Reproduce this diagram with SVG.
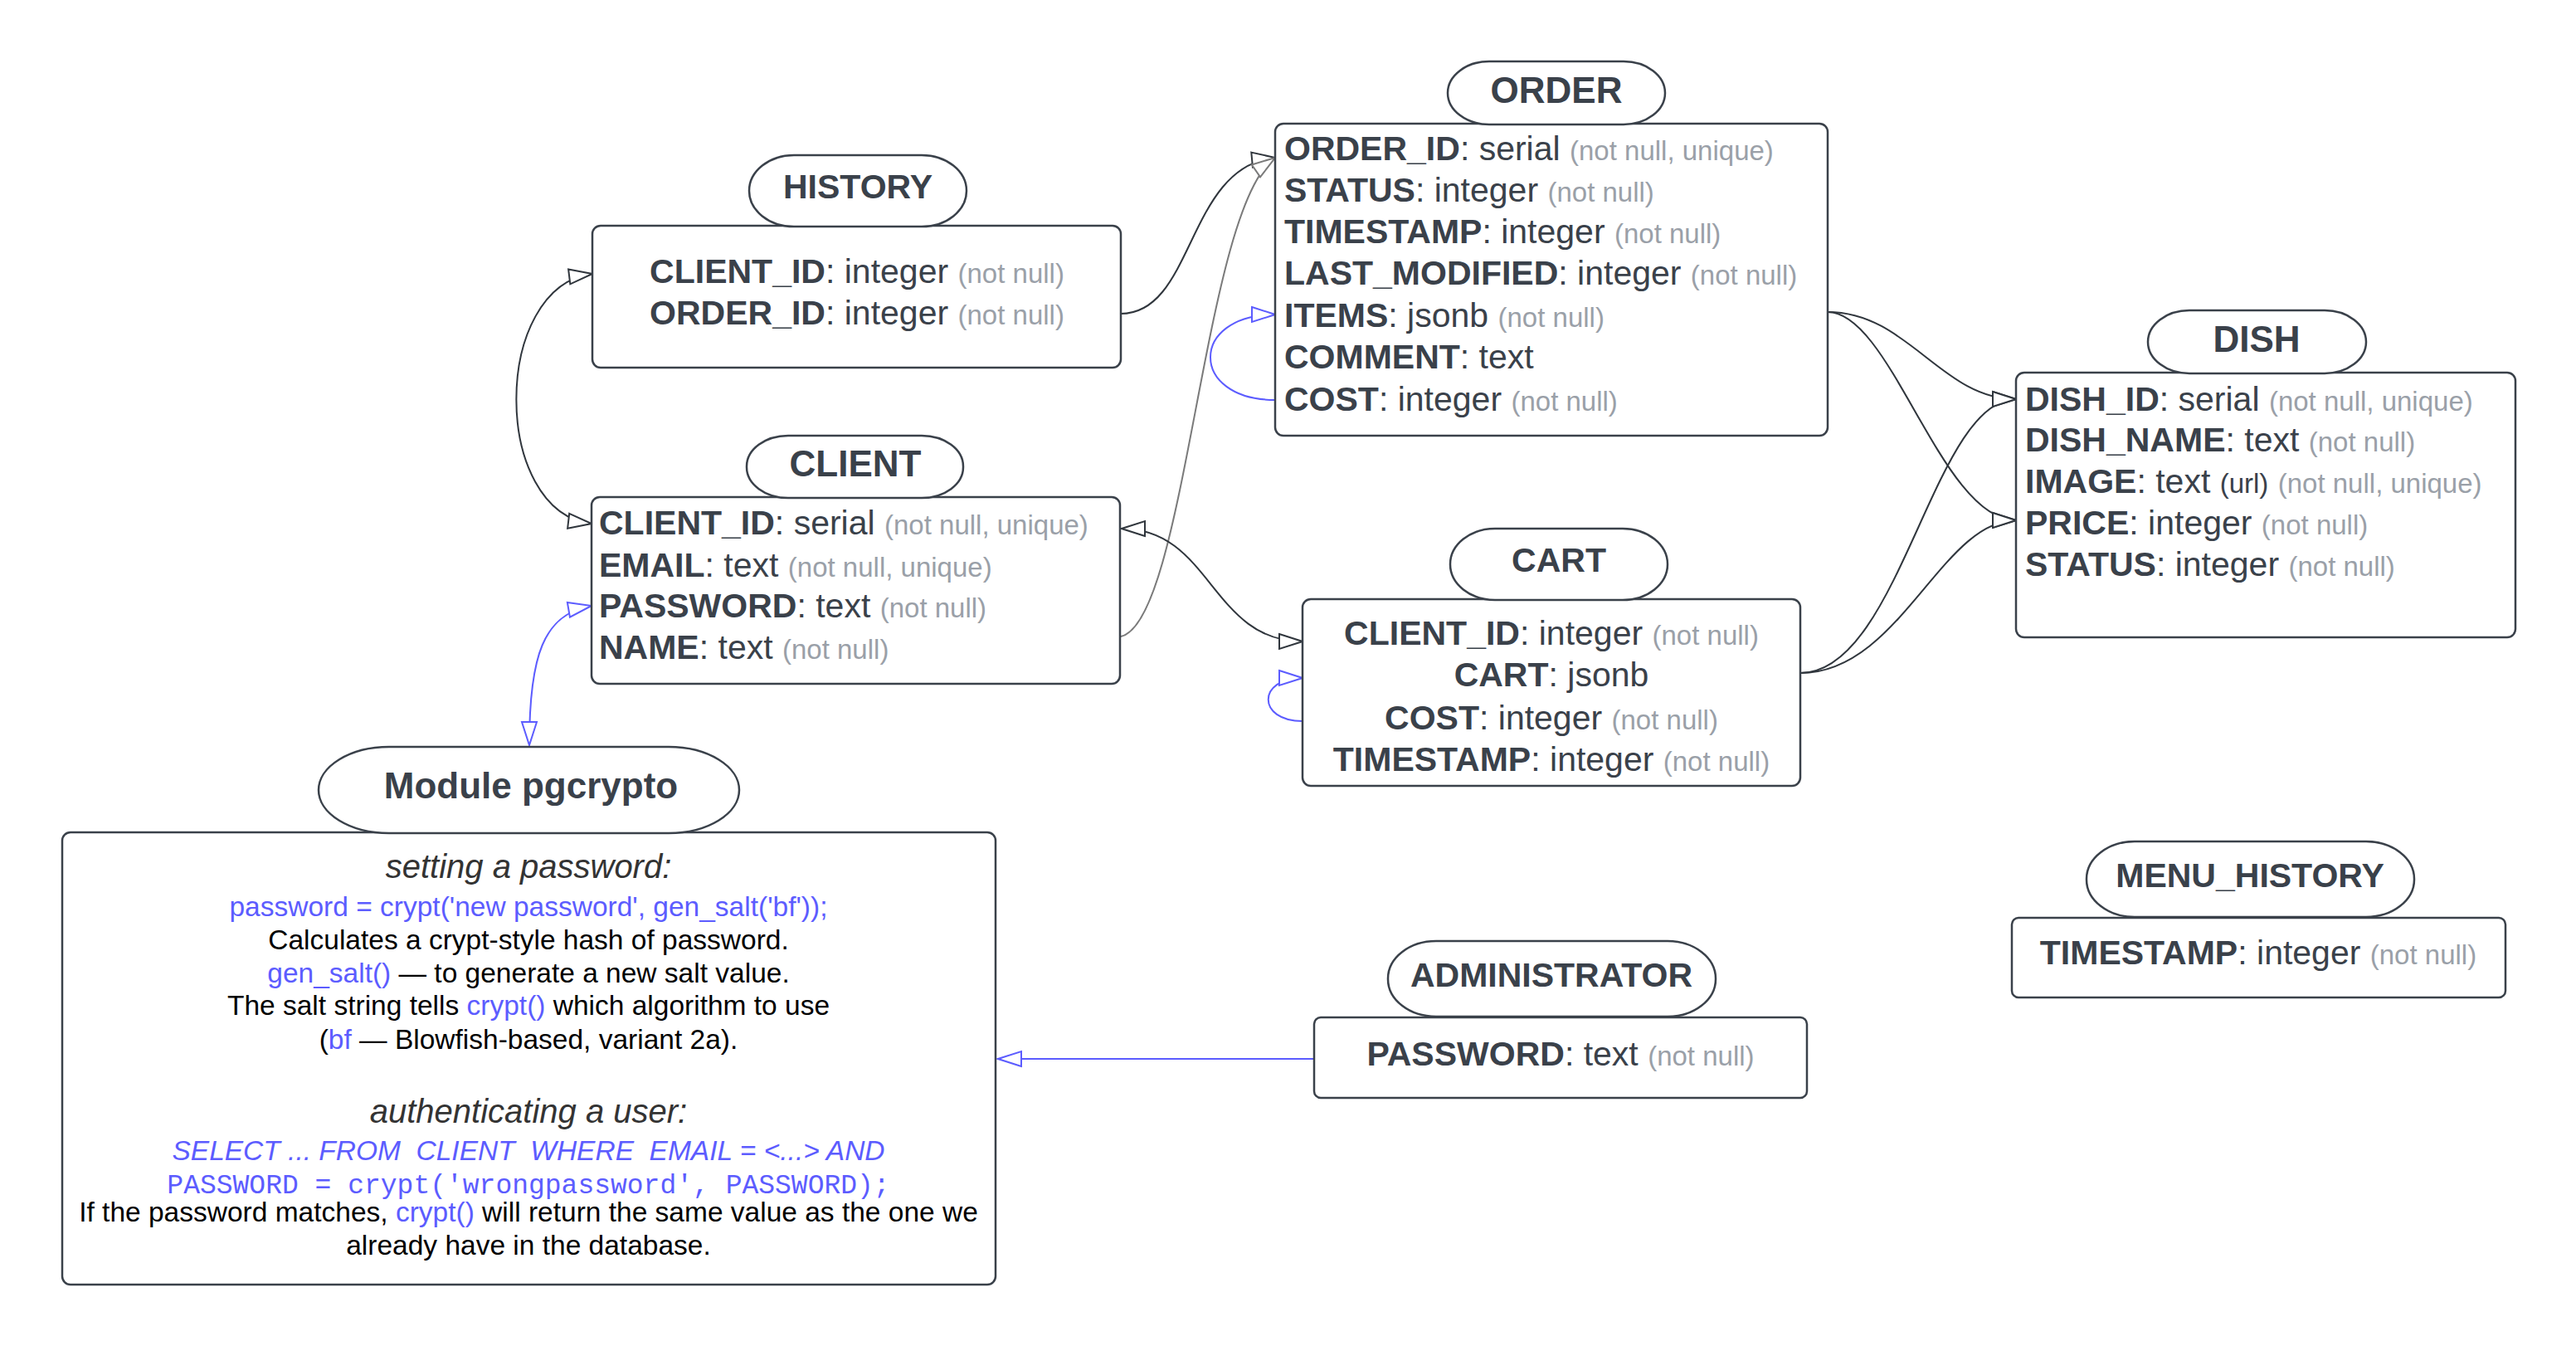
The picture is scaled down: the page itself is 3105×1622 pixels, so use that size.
<svg xmlns="http://www.w3.org/2000/svg" width="3105" height="1622" viewBox="0 0 3105 1622">
<defs>
<style>
text{font-family:"Liberation Sans",Arial,sans-serif;fill:#3a414a;font-size:41px}
.b{font-weight:bold}
.g{fill:#9aa0a8;font-size:33px}
.u{font-size:33px}
.h{font-weight:bold;font-size:44px}
.h2{font-weight:bold;font-size:41px}
.box{fill:#fff;stroke:#3a414a;stroke-width:2.5}
.pill{fill:#fff;stroke:#3a414a;stroke-width:2.5}
.c{fill:none;stroke:#30363d;stroke-width:2}
.cg{fill:none;stroke:#7a7a7a;stroke-width:2}
.cb{fill:none;stroke:#5c5cff;stroke-width:2}
.m{font-size:33.5px;fill:#000}
.mi{font-size:40px;font-style:italic;fill:#333}
.bl{fill:#5c5cff}
.mono{font-family:"Liberation Mono","Courier New",monospace;font-size:33px;fill:#5c5cff}
</style>
<marker id="ad" markerUnits="userSpaceOnUse" markerWidth="32" markerHeight="22" refX="28" refY="9" orient="auto-start-reverse" viewBox="-2 -2 32 22"><path d="M0,0 L28,9 L0,18 Z" fill="#fff" stroke="#30363d" stroke-width="2"/></marker>
<marker id="ag" markerUnits="userSpaceOnUse" markerWidth="32" markerHeight="22" refX="28" refY="9" orient="auto-start-reverse" viewBox="-2 -2 32 22"><path d="M0,0 L28,9 L0,18 Z" fill="#fff" stroke="#7a7a7a" stroke-width="2"/></marker>
<marker id="ab" markerUnits="userSpaceOnUse" markerWidth="32" markerHeight="22" refX="28" refY="9" orient="auto-start-reverse" viewBox="-2 -2 32 22"><path d="M0,0 L28,9 L0,18 Z" fill="#fff" stroke="#5c5cff" stroke-width="2"/></marker>
</defs>
<rect width="3105" height="1622" fill="#fff"/>

<g id="connectors">
<path class="c" d="M714,330 C592,345 592,617 713,631" marker-start="url(#ad)" marker-end="url(#ad)"/>
<path class="c" d="M1351,378 C1440,378 1430,200 1537,190" marker-end="url(#ad)"/>
<path class="cg" d="M1351,767 C1430,750 1450,250 1537,190" marker-end="url(#ag)"/>
<path class="c" d="M1352,637 C1460,637 1460,773 1570,773" marker-start="url(#ad)" marker-end="url(#ad)"/>
<path class="cb" d="M713,730 C655,740 638,790 638,898" marker-start="url(#ab)" marker-end="url(#ab)"/>
<path class="cb" d="M1537,482 C1433,482 1433,379 1537,379" marker-end="url(#ab)"/>
<path class="cb" d="M1570,869 C1515,869 1515,817 1570,817" marker-end="url(#ab)"/>
<path class="c" d="M2203,376 C2300,376 2340,481 2430,481" marker-end="url(#ad)"/>
<path class="c" d="M2203,376 C2280,376 2340,627 2430,627" marker-end="url(#ad)"/>
<path class="c" d="M2170,811 C2290,811 2330,481 2430,481" marker-end="url(#ad)"/>
<path class="c" d="M2170,811 C2290,811 2340,627 2430,627" marker-end="url(#ad)"/>
<path class="cb" d="M1584,1276 L1203,1276" marker-end="url(#ab)"/>
</g>

<g id="history">
<rect class="box" x="714" y="272" width="637" height="171" rx="10"/>
<rect class="pill" x="903" y="187" width="262" height="86" rx="54" ry="43"/>
<text class="h2" x="1034" y="239" text-anchor="middle">HISTORY</text>
<text x="1033" y="341" text-anchor="middle"><tspan class="b">CLIENT_ID</tspan>: integer <tspan class="g">(not null)</tspan></text>
<text x="1033" y="391" text-anchor="middle"><tspan class="b">ORDER_ID</tspan>: integer <tspan class="g">(not null)</tspan></text>
</g>

<g id="order">
<rect class="box" x="1537" y="149" width="666" height="376" rx="10"/>
<rect class="pill" x="1745" y="74" width="262" height="76" rx="50" ry="38"/>
<text class="h" x="1876" y="124" text-anchor="middle">ORDER</text>
<text x="1548" y="193"><tspan class="b">ORDER_ID</tspan>: serial <tspan class="g">(not null, unique)</tspan></text>
<text x="1548" y="243"><tspan class="b">STATUS</tspan>: integer <tspan class="g">(not null)</tspan></text>
<text x="1548" y="293"><tspan class="b">TIMESTAMP</tspan>: integer <tspan class="g">(not null)</tspan></text>
<text x="1548" y="343"><tspan class="b">LAST_MODIFIED</tspan>: integer <tspan class="g">(not null)</tspan></text>
<text x="1548" y="394"><tspan class="b">ITEMS</tspan>: jsonb <tspan class="g">(not null)</tspan></text>
<text x="1548" y="444"><tspan class="b">COMMENT</tspan>: text</text>
<text x="1548" y="495"><tspan class="b">COST</tspan>: integer <tspan class="g">(not null)</tspan></text>
</g>

<g id="client">
<rect class="box" x="713" y="599" width="637" height="225" rx="10"/>
<rect class="pill" x="900" y="525" width="261" height="75" rx="50" ry="37"/>
<text class="h" x="1031" y="574" text-anchor="middle">CLIENT</text>
<text x="722" y="644"><tspan class="b">CLIENT_ID</tspan>: serial <tspan class="g">(not null, unique)</tspan></text>
<text x="722" y="695"><tspan class="b">EMAIL</tspan>: text <tspan class="g">(not null, unique)</tspan></text>
<text x="722" y="744"><tspan class="b">PASSWORD</tspan>: text <tspan class="g">(not null)</tspan></text>
<text x="722" y="794"><tspan class="b">NAME</tspan>: text <tspan class="g">(not null)</tspan></text>
</g>

<g id="cart">
<rect class="box" x="1570" y="722" width="600" height="225" rx="10"/>
<rect class="pill" x="1748" y="637" width="262" height="86" rx="54" ry="43"/>
<text class="h2" x="1879" y="689" text-anchor="middle">CART</text>
<text x="1870" y="777" text-anchor="middle"><tspan class="b">CLIENT_ID</tspan>: integer <tspan class="g">(not null)</tspan></text>
<text x="1870" y="827" text-anchor="middle"><tspan class="b">CART</tspan>: jsonb</text>
<text x="1870" y="879" text-anchor="middle"><tspan class="b">COST</tspan>: integer <tspan class="g">(not null)</tspan></text>
<text x="1870" y="929" text-anchor="middle"><tspan class="b">TIMESTAMP</tspan>: integer <tspan class="g">(not null)</tspan></text>
</g>

<g id="dish">
<rect class="box" x="2430" y="449" width="602" height="319" rx="10"/>
<rect class="pill" x="2589" y="374" width="263" height="76" rx="50" ry="38"/>
<text class="h" x="2720" y="424" text-anchor="middle">DISH</text>
<text x="2441" y="495"><tspan class="b">DISH_ID</tspan>: serial <tspan class="g">(not null, unique)</tspan></text>
<text x="2441" y="544"><tspan class="b">DISH_NAME</tspan>: text <tspan class="g">(not null)</tspan></text>
<text x="2441" y="594"><tspan class="b">IMAGE</tspan>: text <tspan class="u">(url)</tspan> <tspan class="g">(not null, unique)</tspan></text>
<text x="2441" y="644"><tspan class="b">PRICE</tspan>: integer <tspan class="g">(not null)</tspan></text>
<text x="2441" y="694"><tspan class="b">STATUS</tspan>: integer <tspan class="g">(not null)</tspan></text>
</g>

<g id="administrator">
<rect class="box" x="1584" y="1226" width="594" height="97" rx="8"/>
<rect class="pill" x="1673" y="1134" width="395" height="91" rx="58" ry="45"/>
<text class="h2" x="1870" y="1189" text-anchor="middle">ADMINISTRATOR</text>
<text x="1881" y="1284" text-anchor="middle"><tspan class="b">PASSWORD</tspan>: text <tspan class="g">(not null)</tspan></text>
</g>

<g id="menu_history">
<rect class="box" x="2425" y="1106" width="595" height="96" rx="8"/>
<rect class="pill" x="2515" y="1014" width="395" height="91" rx="58" ry="45"/>
<text class="h2" x="2712" y="1069" text-anchor="middle">MENU_HISTORY</text>
<text x="2722" y="1162" text-anchor="middle"><tspan class="b">TIMESTAMP</tspan>: integer <tspan class="g">(not null)</tspan></text>
</g>

<g id="pgcrypto">
<rect class="box" x="75" y="1003" width="1125" height="545" rx="10"/>
<rect class="pill" x="384" y="900" width="507" height="104" rx="85" ry="52"/>
<text class="h" x="640" y="962" text-anchor="middle">Module pgcrypto</text>
<text class="mi" x="637" y="1058" text-anchor="middle">setting a password:</text>
<text class="m bl" x="637" y="1104" text-anchor="middle">password = crypt('new password', gen_salt('bf'));</text>
<text class="m" x="637" y="1144" text-anchor="middle">Calculates a crypt-style hash of password.</text>
<text class="m" x="637" y="1184" text-anchor="middle"><tspan class="bl">gen_salt()</tspan> — to generate a new salt value.</text>
<text class="m" x="637" y="1223" text-anchor="middle">The salt string tells <tspan class="bl">crypt()</tspan> which algorithm to use</text>
<text class="m" x="637" y="1264" text-anchor="middle">(<tspan class="bl">bf</tspan> — Blowfish-based, variant 2a).</text>
<text class="mi" x="637" y="1353" text-anchor="middle">authenticating a user:</text>
<text class="m bl" x="637" y="1398" text-anchor="middle" font-style="italic" style="white-space:pre">SELECT ... FROM  CLIENT  WHERE  EMAIL = &lt;...&gt; AND</text>
<text class="mono" x="637" y="1438" text-anchor="middle">PASSWORD = crypt('wrongpassword', PASSWORD);</text>
<text class="m" x="637" y="1472" text-anchor="middle">If the password matches, <tspan class="bl">crypt()</tspan> will return the same value as the one we</text>
<text class="m" x="637" y="1512" text-anchor="middle">already have in the database.</text>
</g>
</svg>
